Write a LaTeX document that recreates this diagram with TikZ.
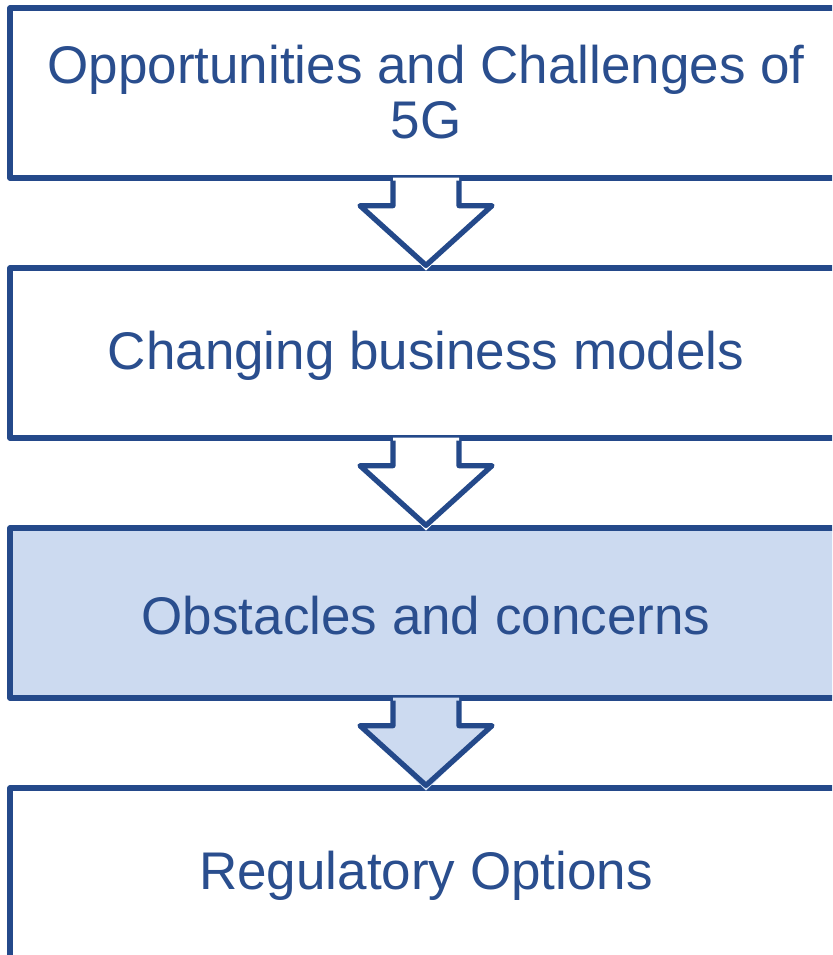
\documentclass[tikz,border=0pt]{standalone}
\usepackage{fontspec}
\setmainfont{Liberation Sans}
\definecolor{edge}{HTML}{24498A}
\definecolor{ink}{HTML}{2A4E8E}
\definecolor{pale}{HTML}{CCDAF0}
\begin{document}
\begin{tikzpicture}[x=1pt,y=-1pt,
  box/.style={draw=edge,line width=5.3pt,minimum width=832pt,minimum height=170pt,
    inner sep=0pt,line join=round},
  lbl/.style={inner sep=0pt,align=center,text=ink,font=\fontsize{53}{55}\selectfont},
  arrowline/.style={draw=edge,line width=5.3pt,line join=round}]
\useasboundingbox (0,0) rectangle (832,955);
\clip (0,0) rectangle (832,955);
\node[box,fill=white] (b1) at (426,93) {};
\node[box,fill=white] (b2) at (426,353) {};
\node[box,fill=pale] (b3) at (426,613) {};
\node[box,fill=white] (b4) at (426,873) {};
\node[lbl] (t1) at ([yshift=1pt]b1.center) {Opportunities and Challenges of\\5G};
\node[lbl] (t2) at ([yshift=-3pt]b2.center) {Changing business models};
\node[lbl] (t3) at ([yshift=-3pt]b3.center) {Obstacles and concerns};
\node[lbl] (t4) at ([yshift=-3pt]b4.center) {Regulatory Options};
\foreach \a/\b/\c in {b1/b2/white,b2/b3/white,b3/b4/pale}{
  \begin{scope}[shift={(\a.south)}]
    \fill[\c] (-33,-3) -- (-33,25) -- (-66,25) -- (0,90) -- (66,25) -- (33,25) -- (33,-3) -- cycle;
    \draw[arrowline] (-33,0) -- (-33,25) -- (-66,25) -- (\b.north) -- (66,25) -- (33,25) -- (33,0);
  \end{scope}
}
\end{tikzpicture}
\end{document}
